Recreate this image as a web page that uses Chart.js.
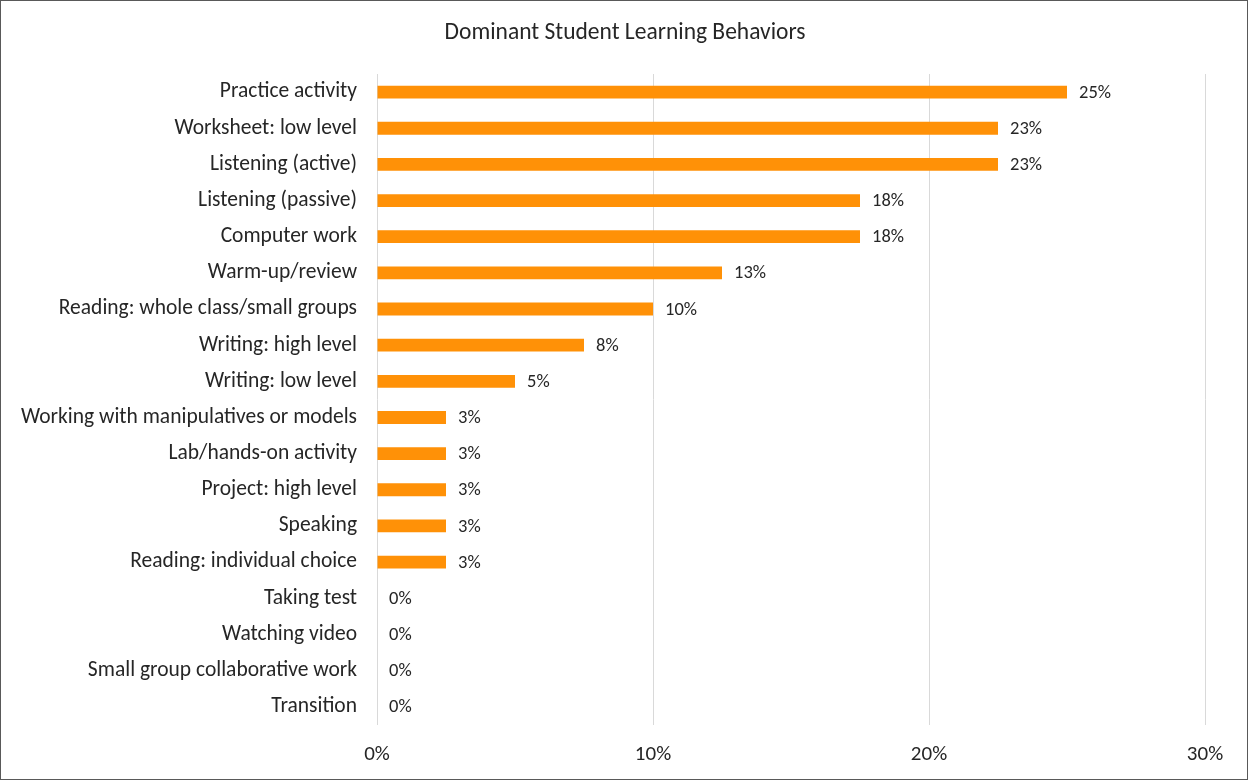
<!DOCTYPE html>
<html>
<head>
<meta charset="utf-8">
<script src="https://cdn.jsdelivr.net/npm/chart.js@4/dist/chart.umd.min.js"></script>
<style>
  html, body { margin: 0; padding: 0; background: #fff; }
  #wrap { width: 1248px; height: 780px; box-sizing: border-box; border: 1px solid #595959; position: relative; }
  #chart { display: block; }
</style>
</head>
<body>
<div id="wrap"><canvas id="chart" width="1246" height="778"></canvas></div>
<script>
// Share of observations in which each behavior dominated (percent)
const categories = [
  'Practice activity',
  'Worksheet: low level',
  'Listening (active)',
  'Listening (passive)',
  'Computer work',
  'Warm-up/review',
  'Reading: whole class/small groups',
  'Writing: high level',
  'Writing: low level',
  'Working with manipulatives or models',
  'Lab/hands-on activity',
  'Project: high level',
  'Speaking',
  'Reading: individual choice',
  'Taking test',
  'Watching video',
  'Small group collaborative work',
  'Transition'
];
const shares = [25, 22.5, 22.5, 17.5, 17.5, 12.5, 10, 7.5, 5, 2.5, 2.5, 2.5, 2.5, 2.5, 0, 0, 0, 0];
const axisTicks = [0, 10, 20, 30];
const chartTitle = 'Dominant Student Learning Behaviors';

const FONT = 'Calibri, Carlito, Lato, sans-serif';
const TEXT = '#262626';

// Title centred across the whole canvas, independent of the plot padding
const canvasTitle = {
  id: 'canvasTitle',
  afterDraw(chart) {
    const ctx = chart.ctx;
    ctx.save();
    ctx.font = '23.5px ' + FONT;
    ctx.fillStyle = TEXT;
    ctx.textAlign = 'center';
    ctx.textBaseline = 'middle';
    ctx.fillText(chartTitle, chart.width / 2 + 1, 32);
    ctx.restore();
  }
};

// Percentage label drawn just past the end of each bar
const valueLabels = {
  id: 'valueLabels',
  afterDatasetsDraw(chart) {
    const ctx = chart.ctx;
    const meta = chart.getDatasetMeta(0);
    ctx.save();
    ctx.font = '18.5px ' + FONT;
    ctx.fillStyle = TEXT;
    ctx.textAlign = 'left';
    ctx.textBaseline = 'middle';
    meta.data.forEach((bar, i) => {
      const v = chart.data.datasets[0].data[i];
      ctx.fillText(Math.round(v) + '%', bar.x + 12, bar.y + 1);
    });
    ctx.restore();
  }
};

new Chart(document.getElementById('chart'), {
  type: 'bar',
  data: {
    labels: categories,
    datasets: [{
      data: shares,
      backgroundColor: '#FF9107',
      borderWidth: 0,
      categoryPercentage: 1,
      barPercentage: 0.355
    }]
  },
  options: {
    indexAxis: 'y',
    responsive: false,
    animation: false,
    layout: { padding: { left: 0, right: 42, top: 73, bottom: -5 } },
    plugins: {
      legend: { display: false },
      tooltip: { enabled: false },
      title: { display: false }
    },
    scales: {
      x: {
        min: 0,
        max: 30,
        afterBuildTicks(scale) { scale.ticks = axisTicks.map(v => ({ value: v })); },
        grid: { color: '#d9d9d9', lineWidth: 1, drawTicks: false },
        border: { display: false },
        ticks: {
          color: TEXT,
          padding: 17,
          font: { family: FONT, size: 21 },
          callback: v => v + '%'
        }
      },
      y: {
        grid: { display: false, drawTicks: false },
        border: { display: false },
        afterFit(scale) { scale.width = 376; },
        ticks: {
          color: TEXT,
          padding: 20,
          autoSkip: false,
          font: { family: FONT, size: 21.5 }
        }
      }
    }
  },
  plugins: [valueLabels, canvasTitle]
});
</script>
</body>
</html>
